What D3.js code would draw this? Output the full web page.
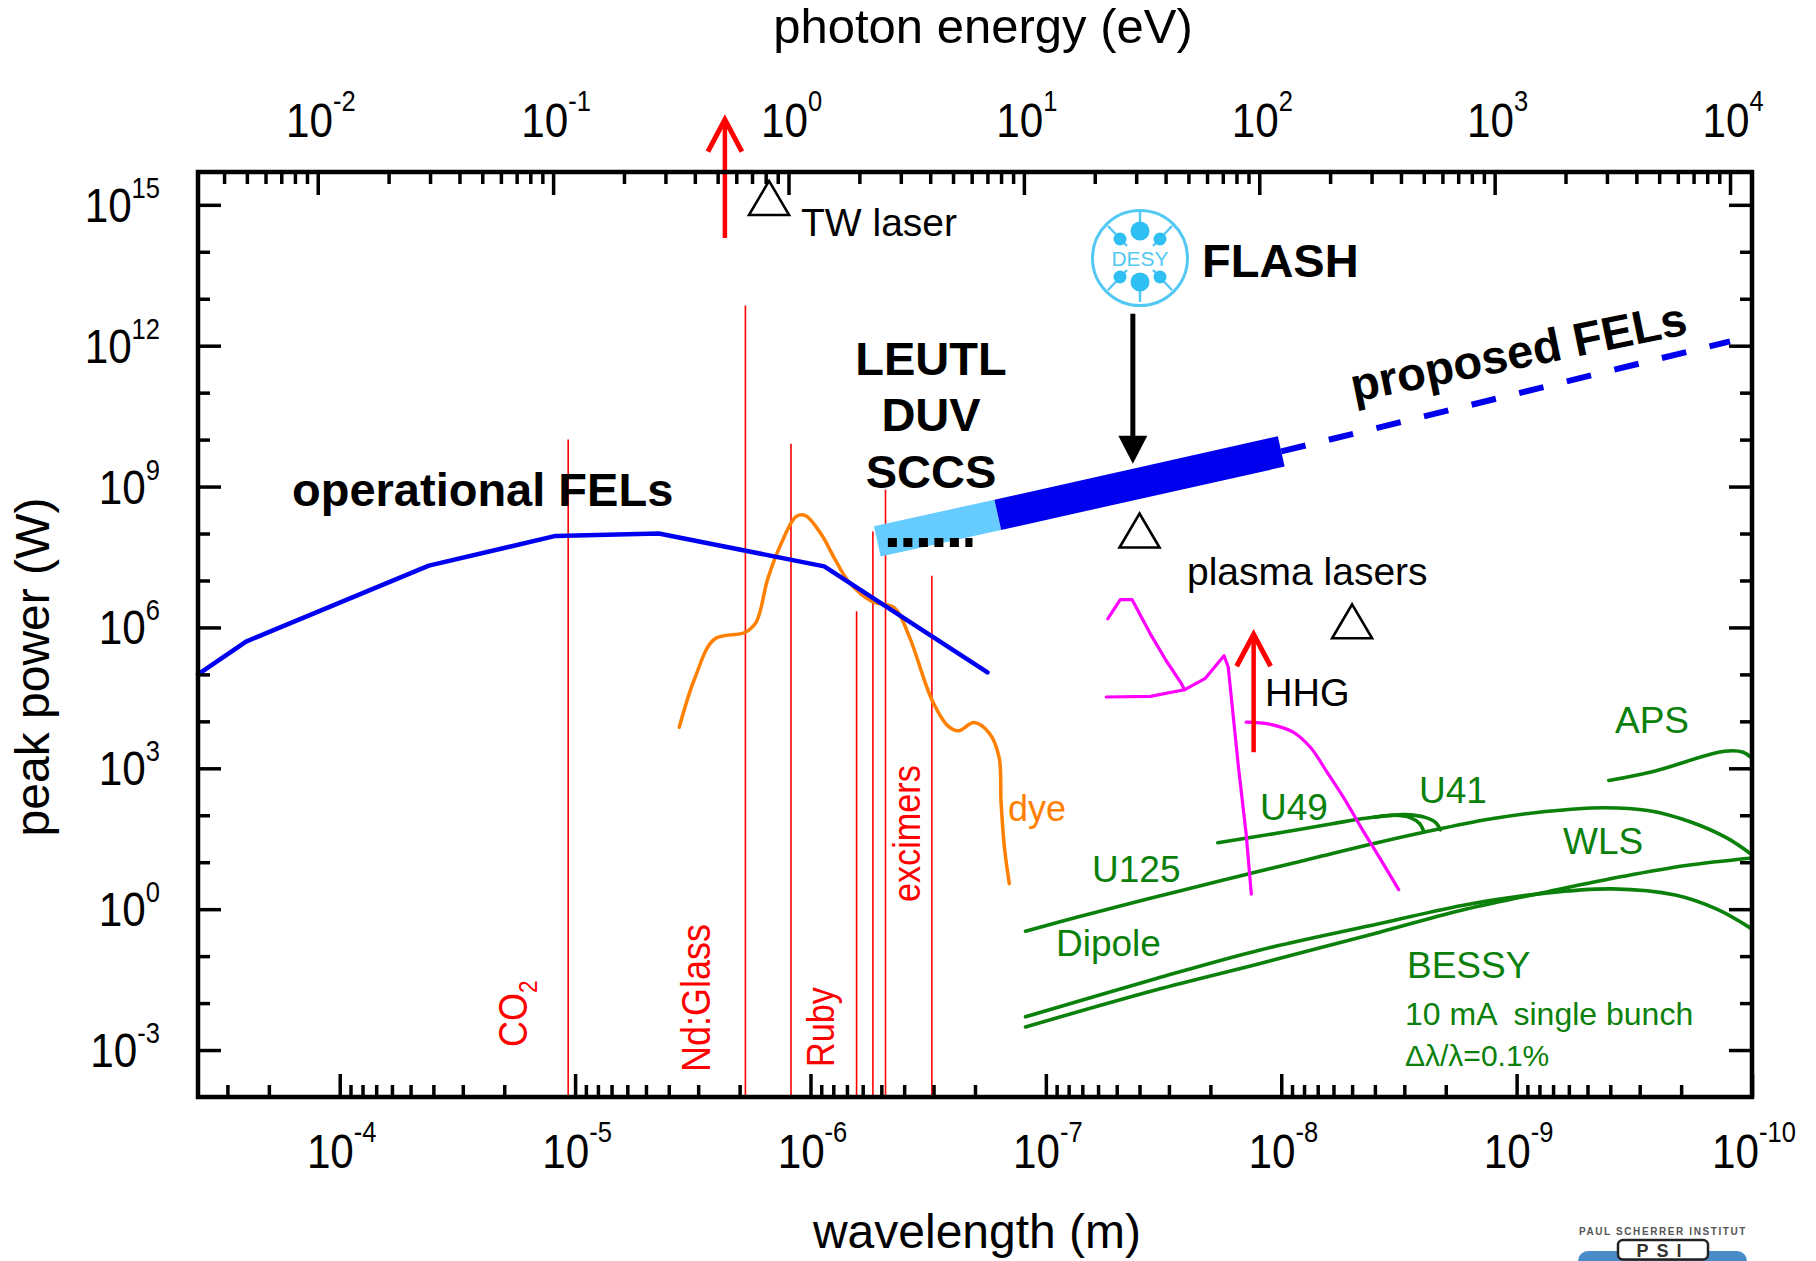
<!DOCTYPE html>
<html>
<head>
<meta charset="utf-8">
<title>Peak power of light sources versus wavelength</title>
<script src="https://cdn.jsdelivr.net/npm/d3@7/dist/d3.min.js"></script>
<style>
  html, body { margin: 0; padding: 0; background: #fff; }
  svg { display: block; }
  text { font-family: "Liberation Sans", Arial, Helvetica, sans-serif; }
</style>
</head>
<body>
<svg id="chart" width="1816" height="1261"></svg>
<script>
// hc in eV·m, links the wavelength axis to the photon-energy axis
const HC = 1.23984e-6;

// Axis ranges and tick labels
const wavelengthRange = [4e-4, 1e-10];
const powerRange = [1e-4, 5e15];
const wavelengthLabelExps = [-4, -5, -6, -7, -8, -9, -10];
const energyLabelExps = [-2, -1, 0, 1, 2, 3, 4];
const powerLabelExps = [15, 12, 9, 6, 3, 0, -3];

// Series: [wavelength (m), peak power (W)]
const operationalFEL = [[4e-4, 1.0e5], [2.5e-4, 5.0e5], [4.18e-5, 2.07e7], [1.21e-5, 8.9e7],
  [4.41e-6, 1.0e8], [8.74e-7, 2.0e7], [1.77e-7, 1.1e5]];

const dyeLaser = [[3.61e-6, 7.5e3], [3.09e-6, 8.7e4], [2.56e-6, 5.6e5], [1.9e-6, 7.8e5],
  [1.70e-6, 1.3e6], [1.52e-6, 1.07e7], [1.33e-6, 6.2e7], [1.15e-6, 2.3e8], [1.05e-6, 2.4e8],
  [9.0e-7, 9.6e7], [7.8e-7, 2.6e7], [6.9e-7, 9.6e6], [5.5e-7, 3.6e6], [4.4e-7, 2.6e6],
  [3.8e-7, 6.3e5], [3.05e-7, 2.9e4], [2.6e-7, 7.9e3], [2.35e-7, 6.3e3], [2.02e-7, 9.4e3],
  [1.74e-7, 5.6e3], [1.58e-7, 1.7e3], [1.55e-7, 190], [1.50e-7, 21], [1.43e-7, 3.5]];

// Conventional lasers (vertical lines from the bottom of the plot up to peak power)
const laserLambda = [1.07e-5, 1.89e-6, 1.21e-6, 6.37e-7, 5.43e-7, 4.8e-7, 3.05e-7];
const laserPeak = [1e10, 7.2e12, 8.2e9, 2.2e6, 1.1e8, 8.6e8, 1.26e7];

// FLASH / LEUTL band and the proposed X-ray FELs
const leutlBand = [[5.2e-7, 6.8e7], [1.6e-7, 2.5e8]];
const flashBand = [[1.6e-7, 2.5e8], [1e-8, 5.6e9]];
const proposedFEL = [[1e-8, 5.6e9], [1.24e-10, 1.24e12]];
const leutlDots = [[4.69e-7, 6.4e7], [2.05e-7, 6.4e7]];

// Synchrotron sources
const u125Wls = [[1.22e-7, 0.34], [7.33e-8, 0.68], [4.4e-8, 1.32], [2.65e-8, 2.5], [1.37e-8, 5.7],
  [7.4e-9, 12], [4.04e-9, 25], [2.09e-9, 52], [1.26e-9, 85], [7.55e-10, 120], [4.3e-10, 145],
  [2.73e-10, 125], [1.82e-10, 72], [1.28e-10, 33], [1.01e-10, 15]];
const u49 = [[1.86e-8, 26], [1.06e-8, 41], [6.07e-9, 66], [4.48e-9, 85], [3.3e-9, 100],
  [2.83e-9, 89], [2.58e-9, 66], [2.49e-9, 48]];
const u41 = [[4.04e-9, 91], [2.98e-9, 103], [2.43e-9, 89], [2.2e-9, 69], [2.11e-9, 49]];
const aps = [[4.06e-10, 550], [2.6e-10, 870], [1.31e-10, 2300], [1.09e-10, 2200], [1.01e-10, 1700]];
const dipoleA = [[1.22e-7, 5.1e-3], [3.42e-8, 0.033], [1.24e-8, 0.134], [3.85e-9, 0.49],
  [1.62e-9, 1.26], [7.55e-10, 2.2], [3.9e-10, 2.7], [2.12e-10, 2.0], [1.41e-10, 1.0], [1.01e-10, 0.39]];
const dipoleB = [[1.22e-7, 3.1e-3], [3.42e-8, 0.019], [1.24e-8, 0.069], [3.85e-9, 0.32],
  [1.62e-9, 1.02], [7.55e-10, 2.3], [3.52e-10, 5.0], [1.91e-10, 8.5], [1.0e-10, 12.3]];

// Plasma lasers and HHG
const plasmaA = [[5.46e-8, 1.53e6], [4.83e-8, 3.9e6], [4.3e-8, 3.9e6], [3.6e-8, 7.3e5],
  [3.09e-8, 2e5], [2.65e-8, 6.3e4], [2.58e-8, 4.7e4]];
const plasmaB = [[5.54e-8, 3.3e4], [3.6e-8, 3.4e4], [2.58e-8, 4.7e4], [2.11e-8, 8.1e4],
  [1.75e-8, 2.5e5], [1.68e-8, 1.44e5], [1.52e-8, 1070], [1.41e-8, 41], [1.34e-8, 2.1]];
const hhgSpectrum = [[1.41e-8, 9.6e3], [1.12e-8, 8.7e3], [8.9e-9, 5.9e3], [7.52e-9, 2.8e3],
  [6.39e-9, 830], [5.35e-9, 210], [4.59e-9, 56], [3.84e-9, 13], [3.17e-9, 2.6]];

// Arrows: [wavelength, power at tail, power at tip]
const twArrow = [2.31e-6, 1.97e14, 7.2e16];
const hhgArrow = [1.31e-8, 2.2e3, 7.9e5];
const flashArrow = [4.27e-8, 4.8e12, 3.05e9];

// Open triangles: [wavelength, power]
const triangles = [[1.5e-6, 1.4e15], [4.0e-8, 1.16e8], [5.0e-9, 1.35e6]];

// ---------------------------------------------------------------------------
const svg = d3.select("#chart");
const L = 198, R = 1752, T = 172, B = 1097;

const x = d3.scaleLog().domain(wavelengthRange).range([L, R]);
const y = d3.scaleLog().domain(powerRange).range([B, T]);
const e = d3.scaleLog().domain([HC / wavelengthRange[0], HC / wavelengthRange[1]]).range([L, R]);

const line = d3.line().x(d => x(d[0])).y(d => y(d[1]));
const smooth = d3.line().x(d => x(d[0])).y(d => y(d[1])).curve(d3.curveCatmullRom.alpha(0.5));

const data = svg.append("g");

// red laser lines
data.selectAll("line.laser").data(laserLambda).join("line")
  .attr("class", "laser")
  .attr("x1", d => x(d)).attr("x2", d => x(d))
  .attr("y1", y(powerRange[0])).attr("y2", (d, i) => y(laserPeak[i]))
  .attr("stroke", "#ff0000").attr("stroke-width", 1.6);

function path(d, gen, color, width, extra) {
  const p = data.append("path").datum(d).attr("d", gen)
    .attr("fill", "none").attr("stroke", color).attr("stroke-width", width)
    .attr("stroke-linejoin", "round").attr("stroke-linecap", "round");
  if (extra) extra(p);
  return p;
}

path(dyeLaser, smooth, "#ff8000", 3.5);
path(operationalFEL, line, "#0000f0", 4.5);

const green = "#0b800b";
[u125Wls, u49, u41, aps, dipoleA, dipoleB].forEach(s => path(s, smooth, green, 3.6));

const magenta = "#ff00ff";
path(plasmaA, line, magenta, 3.2);
path(plasmaB, line, magenta, 3.2);
path(hhgSpectrum, smooth, magenta, 3.2);

// FEL band
path(leutlBand, line, "#66ccff", 31, p => p.attr("stroke-linecap", "butt"));
path(flashBand, line, "#0000ee", 31, p => p.attr("stroke-linecap", "butt"));
path(proposedFEL, line, "#0000ee", 6, p => p.attr("stroke-linecap", "butt").attr("stroke-dasharray", "25,24"));
path(leutlDots, line, "#000", 9, p => p.attr("stroke-linecap", "butt").attr("stroke-dasharray", "9,6.5"));

// arrows
function chevronArrow(a, color) {
  const ax = x(a[0]), y0 = y(a[1]), y1 = y(a[2]);
  data.append("line").attr("x1", ax).attr("x2", ax).attr("y1", y0).attr("y2", y1 + 3)
    .attr("stroke", color).attr("stroke-width", 4.5);
  data.append("polyline")
    .attr("points", `${ax - 17},${y1 + 34} ${ax},${y1 + 2} ${ax + 17},${y1 + 34}`)
    .attr("fill", "none").attr("stroke", color).attr("stroke-width", 5).attr("stroke-linejoin", "miter");
}
chevronArrow(twArrow, "#ff0000");
chevronArrow(hhgArrow, "#ff0000");

{
  const ax = x(flashArrow[0]), y0 = y(flashArrow[1]), y1 = y(flashArrow[2]);
  data.append("line").attr("x1", ax).attr("x2", ax).attr("y1", y0).attr("y2", y1 - 20)
    .attr("stroke", "#000").attr("stroke-width", 5);
  data.append("polygon")
    .attr("points", `${ax - 14.5},${y1 - 28} ${ax + 14.5},${y1 - 28} ${ax},${y1}`)
    .attr("fill", "#000");
}

// open triangles
data.selectAll("path.tri").data(triangles).join("path")
  .attr("class", "tri")
  .attr("d", d => {
    const cx = x(d[0]), cy = y(d[1]);
    return `M${cx},${cy - 17}L${cx + 20},${cy + 17}L${cx - 20},${cy + 17}Z`;
  })
  .attr("fill", "none").attr("stroke", "#000").attr("stroke-width", 2.6).attr("stroke-linejoin", "miter");

// DESY logo
{
  const g = svg.append("g").attr("transform", "translate(1140,258)");
  const c = "#52c8f2", f = "#2fbff3";
  g.append("circle").attr("r", 47.5).attr("fill", "none").attr("stroke", c).attr("stroke-width", 3);
  g.append("line").attr("x1", 0).attr("x2", 0).attr("y1", -46).attr("y2", -30).attr("stroke", c).attr("stroke-width", 2.5);
  g.append("line").attr("x1", 0).attr("x2", 0).attr("y1", 25).attr("y2", 44).attr("stroke", c).attr("stroke-width", 2.5);
  [[-1, -1], [1, -1], [-1, 1], [1, 1]].forEach(([sx, sy]) => {
    g.append("line").attr("x1", sx * 32).attr("y1", sy * 32).attr("x2", sx * 13).attr("y2", sy * 12)
      .attr("stroke", c).attr("stroke-width", 2.5);
    g.append("circle").attr("cx", sx * 20).attr("cy", sy * 19).attr("r", 6.5).attr("fill", f);
  });
  g.append("circle").attr("cx", 0).attr("cy", -27).attr("r", 9.5).attr("fill", f);
  g.append("circle").attr("cx", 0).attr("cy", 24).attr("r", 9.5).attr("fill", f);
  g.append("text").attr("x", 0).attr("y", 8).attr("text-anchor", "middle")
    .attr("fill", c).style("font-size", "21px").text("DESY");
}

// ---------------------------------------------------------------------------
// text helper
function label(txt, px, py, opt = {}) {
  let tr = `translate(${px},${py})`;
  if (opt.rotate) tr += ` rotate(${opt.rotate})`;
  if (opt.sx) tr += ` scale(${opt.sx},1)`;
  return svg.append("text")
    .attr("transform", tr)
    .attr("text-anchor", opt.anchor || "start")
    .attr("fill", opt.color || "#000")
    .style("font-size", (opt.size || 38) + "px")
    .style("font-weight", opt.bold ? "bold" : "normal")
    .style("white-space", "pre")
    .text(txt);
}

label("operational FELs", 292, 506, { size: 47, bold: true });
label("LEUTL", 931, 375, { size: 47, bold: true, anchor: "middle" });
label("DUV", 931, 431, { size: 47, bold: true, anchor: "middle" });
label("SCCS", 931, 488, { size: 47, bold: true, anchor: "middle" });
label("FLASH", 1202, 277, { size: 47, bold: true });
label("proposed FELs", 1354, 402, { size: 47, bold: true, rotate: -11.5 });
label("TW laser", 801, 236, { size: 39 });
label("plasma lasers", 1187, 585, { size: 39 });
label("HHG", 1265, 706, { size: 38 });
label("dye", 1008, 821, { size: 36, color: "#ff8000" });

label("APS", 1615, 733, { size: 37, color: green });
label("U41", 1419, 803, { size: 37, color: green });
label("U49", 1260, 820, { size: 37, color: green });
label("U125", 1092, 882, { size: 37, color: green });
label("WLS", 1563, 854, { size: 37, color: green });
label("Dipole", 1056, 956, { size: 37, color: green });
label("BESSY", 1407, 978, { size: 37, color: green });
label("10 mA  single bunch", 1405, 1025, { size: 32, color: green });
label("Δλ/λ=0.1%", 1405, 1066, { size: 30, color: green });

// rotated laser names
{
  const co2 = label("CO", 527, 1047, { size: 40, rotate: -90, sx: 0.9, color: "#ff0000" });
  co2.append("tspan").attr("dy", 10).style("font-size", "25px").text("2");
  label("Nd:Glass", 710, 1072, { size: 40, rotate: -90, sx: 0.9, color: "#ff0000" });
  label("Ruby", 834, 1067, { size: 38, rotate: -90, sx: 0.9, color: "#ff0000" });
  label("excimers", 920, 902, { size: 38, rotate: -90, sx: 0.9, color: "#ff0000" });
}

// ---------------------------------------------------------------------------
// axes
const pow10 = k => +("1e" + k);
function minorTicks(lo, hi) {
  const out = [];
  for (let n = Math.floor(Math.log10(lo)) ; n <= Math.ceil(Math.log10(hi)); n++)
    for (let k = 2; k <= 9; k++) {
      const v = +(k + "e" + n);
      if (v > lo && v < hi) out.push(v);
    }
  return out;
}

function tickAxis(axis, tf) {
  const g = svg.append("g").attr("transform", tf).call(axis);
  g.select(".domain").remove();
  g.selectAll(".tick line").attr("stroke", "#000").attr("stroke-width", 3.5);
  g.selectAll(".tick text").remove();
}

// bottom: wavelength
tickAxis(d3.axisBottom(x).tickValues(minorTicks(1e-10, 4e-4)).tickSize(-12), `translate(0,${B})`);
tickAxis(d3.axisBottom(x).tickValues(wavelengthLabelExps.map(pow10)).tickSize(-23), `translate(0,${B})`);
// top: photon energy
tickAxis(d3.axisTop(e).tickValues(minorTicks(HC / 4e-4, HC / 1e-10)).tickSize(-12), `translate(0,${T})`);
tickAxis(d3.axisTop(e).tickValues(energyLabelExps.map(pow10)).tickSize(-23), `translate(0,${T})`);
// left/right: peak power
const powerDecades = d3.range(-3, 16);
const powerMinor = powerDecades.filter(k => !powerLabelExps.includes(k)).map(pow10);
const powerMajor = powerLabelExps.map(pow10);
tickAxis(d3.axisLeft(y).tickValues(powerMinor).tickSize(-12), `translate(${L},0)`);
tickAxis(d3.axisLeft(y).tickValues(powerMajor).tickSize(-23), `translate(${L},0)`);
tickAxis(d3.axisRight(y).tickValues(powerMinor).tickSize(-12), `translate(${R},0)`);
tickAxis(d3.axisRight(y).tickValues(powerMajor).tickSize(-23), `translate(${R},0)`);

svg.append("rect").attr("x", L).attr("y", T).attr("width", R - L).attr("height", B - T)
  .attr("fill", "none").attr("stroke", "#000").attr("stroke-width", 4.5);

// power-of-ten tick labels
function powLabel(px, py, k, anchor, rise) {
  const t = svg.append("text")
    .attr("transform", `translate(${px},${py}) scale(0.88,1)`)
    .attr("text-anchor", anchor).style("font-size", "48px");
  t.append("tspan").text("10");
  t.append("tspan").attr("dy", -rise).style("font-size", "29px").text(k);
}
powerLabelExps.forEach(k => powLabel(160, y(pow10(k)) + 17, k, "end", 24));
wavelengthLabelExps.forEach(k => powLabel(x(pow10(k)) + 2, 1168, k, "middle", 26));
energyLabelExps.forEach(k => powLabel(e(pow10(k)) + 3, 137, k, "middle", 26));

// axis titles
label("photon energy (eV)", 983, 43, { size: 49, anchor: "middle" });
label("wavelength (m)", 977, 1248, { size: 48, anchor: "middle" });
label("peak power (W)", 49, 667, { size: 48, anchor: "middle", rotate: -90 });

// institute mark, bottom right
{
  const g = svg.append("g");
  g.append("text").attr("x", 1663).attr("y", 1235).attr("text-anchor", "middle")
    .attr("fill", "#555").style("font-size", "10px").style("font-weight", "bold")
    .style("letter-spacing", "1.6px").text("PAUL SCHERRER INSTITUT");
  g.append("rect").attr("x", 1578).attr("y", 1251).attr("width", 169).attr("height", 30)
    .attr("rx", 10).attr("fill", "#4a8cc9");
  g.append("rect").attr("x", 1618).attr("y", 1240).attr("width", 90).attr("height", 19.5)
    .attr("rx", 5).attr("fill", "#fff").attr("stroke", "#222").attr("stroke-width", 2.5);
  g.append("text").attr("x", 1663).attr("y", 1257).attr("text-anchor", "middle")
    .attr("fill", "#333").style("font-size", "18px").style("font-weight", "bold")
    .style("letter-spacing", "8px").text("PSI");
}
</script>
</body>
</html>
